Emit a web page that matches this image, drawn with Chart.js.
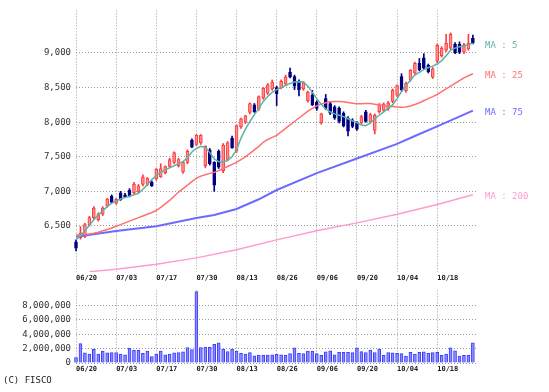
<!DOCTYPE html>
<html>
<head>
<meta charset="utf-8">
<script src="https://cdn.jsdelivr.net/npm/chart.js@4.4.1/dist/chart.umd.min.js"></script>
<style>
  body { margin: 0; background: #fff; width: 549px; height: 392px; position: relative; overflow: hidden; }
  #priceChart { position: absolute; left: 0; top: 0; }
  #volumeChart { position: absolute; left: 0; top: 280px; }
  #credit { position: absolute; left: 3px; top: 375px; font: 9px "DejaVu Sans Mono", monospace; color: #222; }
</style>
</head>
<body>
<canvas id="priceChart" width="549" height="283"></canvas>
<canvas id="volumeChart" width="549" height="112"></canvas>
<div id="credit">(C) FISCO</div>
<script>
// trading days shown on the chart
const dates = [
  "06/20","06/21","06/24","06/25","06/26","06/27","06/28",
  "07/01","07/02","07/03","07/04","07/05","07/08","07/09","07/10","07/11","07/12","07/16","07/17","07/18","07/19","07/22","07/23","07/24","07/25","07/26","07/29","07/30","07/31",
  "08/01","08/02","08/05","08/06","08/07","08/08","08/09","08/13","08/14","08/15","08/16","08/19","08/20","08/21","08/22","08/23","08/26","08/27","08/28","08/29","08/30",
  "09/02","09/03","09/04","09/05","09/06","09/09","09/10","09/11","09/12","09/13","09/17","09/18","09/19","09/20","09/24","09/25","09/26","09/27","09/30",
  "10/01","10/02","10/03","10/04","10/07","10/08","10/09","10/10","10/11","10/15","10/16","10/17","10/18","10/21","10/22","10/23","10/24","10/25","10/28","10/29","10/30"
];
const tickLabels = ["06/20","07/03","07/17","07/30","08/13","08/26","09/06","09/20","10/04","10/18"];
const priceTicks = [6500, 7000, 7500, 8000, 8500, 9000];
const volumeTicks = [0, 2000000, 4000000, 6000000, 8000000];

const opens = [
  6270,6330,6350,6520,6620,6590,6670,6790,6930,6830,
  6980,6950,7020,6980,7000,7100,7100,7130,7180,7210,
  7270,7360,7420,7370,7280,7420,7740,7680,7700,7370,
  7600,7420,7580,7300,7460,7770,7580,7930,8000,8140,
  8250,8190,8350,8420,8480,8500,8500,8550,8720,8660,
  8590,8480,8310,8390,8290,7990,8340,8270,8220,8200,
  8130,8060,8030,7990,7990,8150,8000,7880,8150,8170,
  8190,8300,8390,8660,8450,8610,8710,8850,8930,8820,
  8650,8880,8960,9040,9070,9130,9130,9010,9060,9210
];
const highs = [
  6300,6490,6540,6640,6780,6690,6780,6900,6950,6900,
  7000,6970,7040,7130,7100,7240,7200,7150,7330,7400,
  7370,7480,7570,7480,7430,7600,7760,7820,7820,7660,
  7620,7430,7600,7690,7720,7800,7960,8060,8100,8280,
  8270,8380,8500,8560,8610,8520,8610,8680,8780,8680,
  8610,8590,8450,8460,8310,8130,8400,8290,8240,8220,
  8150,8080,8050,8010,8100,8170,8130,8120,8270,8280,
  8300,8480,8540,8700,8580,8760,8870,8920,8990,8840,
  8790,9130,9090,9270,9290,9150,9160,9140,9270,9260
];
const lows = [
  6140,6310,6330,6500,6600,6570,6650,6770,6830,6810,
  6870,6910,6920,6960,6980,7080,7080,7070,7160,7200,
  7250,7340,7400,7350,7260,7400,7630,7660,7680,7340,
  7380,7000,7330,7270,7440,7620,7560,7910,7980,8120,
  8140,8170,8330,8400,8460,8240,8480,8530,8640,8470,
  8380,8460,8290,8240,8170,7970,8180,8110,8040,7990,
  7930,7800,7920,7880,7970,8000,7980,7830,8130,8150,
  8170,8280,8370,8450,8430,8590,8690,8740,8760,8710,
  8630,8860,8940,9020,9050,8990,8990,8990,9040,9130
];
const closes = [
  6180,6400,6520,6620,6760,6670,6760,6890,6840,6890,
  6880,6920,6930,7100,7080,7210,7190,7080,7320,7330,
  7360,7460,7560,7460,7420,7580,7640,7810,7810,7650,
  7400,7090,7350,7670,7700,7630,7950,8050,8090,8270,
  8150,8370,8490,8540,8580,8410,8590,8650,8650,8520,
  8470,8570,8430,8250,8200,8120,8200,8130,8060,8010,
  7950,7870,7940,7900,8080,8010,8110,8100,8250,8260,
  8280,8460,8530,8470,8560,8750,8850,8760,8780,8730,
  8770,9110,9070,9140,9270,9000,9010,9120,9140,9150
];
const volumes = [
  750000,2700000,1400000,1250000,1900000,1250000,1650000,1400000,1450000,1450000,
  1250000,1150000,2050000,1750000,1750000,1350000,1650000,900000,1250000,1650000,
  1150000,1250000,1400000,1450000,1550000,2150000,1850000,9950000,2150000,2200000,
  2200000,2600000,2800000,1950000,1600000,1950000,1650000,1350000,1250000,1450000,
  1000000,1100000,1100000,1100000,1150000,1200000,1150000,1050000,1300000,2100000,
  1350000,1300000,1650000,1650000,1300000,1050000,1550000,1700000,1150000,1500000,
  1500000,1500000,1450000,2100000,1600000,1450000,1800000,1450000,1950000,1050000,
  1450000,1400000,1350000,1300000,950000,1500000,1250000,1500000,1550000,1350000,
  1450000,1500000,1050000,1250000,2100000,1700000,950000,1050000,1050000,2800000
];

// moving averages
const ma5 = [
  6300,6360,6430,6510,6590,6660,6720,6780,6830,6860,
  6890,6910,6930,6950,6970,7030,7100,7170,7230,7280,
  7310,7340,7370,7400,7430,7490,7570,7620,7650,7640,
  7560,7470,7430,7420,7450,7500,7600,7770,7900,8010,
  8110,8200,8300,8370,8430,8470,8500,8530,8560,8580,
  8585,8580,8520,8430,8340,8260,8190,8150,8120,8100,
  8080,8050,8020,7990,7960,7950,7990,8050,8100,8150,
  8200,8250,8340,8440,8530,8610,8680,8720,8760,8790,
  8810,8840,8890,8960,9040,9070,9090,9100,9120,9140
];
const ma25 = [
  6370,6375,6380,6385,6395,6410,6430,6450,6470,6497,
  6520,6545,6570,6595,6620,6645,6670,6695,6723,6770,
  6820,6870,6930,6990,7040,7090,7140,7190,7220,7240,
  7260,7275,7300,7330,7360,7390,7420,7460,7500,7550,
  7600,7650,7710,7750,7780,7810,7860,7910,7960,8010,
  8060,8110,8160,8200,8235,8260,8280,8295,8300,8300,
  8295,8285,8275,8265,8265,8270,8270,8260,8250,8240,
  8230,8225,8220,8215,8220,8235,8255,8280,8310,8340,
  8370,8400,8440,8480,8520,8560,8600,8640,8670,8700
];
const ma75 = [[0,6345],[9,6426],[18,6497],[27,6614],[31,6660],[36,6745],[41,6886],[45,7020],[54,7263],[63,7475],[72,7687],[76,7800],[81,7940],[89,8167]];
const ma200 = [[3,5840],[9,5875],[18,5946],[27,6039],[36,6158],[45,6299],[54,6430],[63,6545],[72,6670],[81,6810],[89,6950]];

const tickIdx = tickLabels.map(t => dates.indexOf(t));
const monoFont = '"DejaVu Sans Mono", monospace';
const gridColor = "#9a9a9a";

const upFill = "#ff8c8c", upLine = "#ff3c3c", downFill = "#000080";
const candleFill = closes.map((c, i) => c >= opens[i] ? upFill : downFill);
const candleLine = closes.map((c, i) => c >= opens[i] ? upLine : downFill);

const maSeries = [
  { label: "MA : 5", color: "#5cb3a8", width: 1.5, data: ma5.map((v, i) => ({ x: i, y: v })) },
  { label: "MA : 25", color: "#ff7070", width: 1.5, data: ma25.map((v, i) => ({ x: i, y: v })) },
  { label: "MA : 75", color: "#6b6bff", width: 2, data: ma75.map(p => ({ x: p[0], y: p[1] })) },
  { label: "MA : 200", color: "#ff9ccf", width: 1.5, data: ma200.map(p => ({ x: p[0], y: p[1] })) }
];

// names of the MA lines at the right end of each line
const maLabels = {
  id: "maLabels",
  afterDatasetsDraw(chart) {
    const ctx = chart.ctx;
    const y = chart.scales.y;
    ctx.save();
    ctx.font = "9px " + monoFont;
    ctx.textBaseline = "middle";
    maSeries.forEach(m => {
      const last = m.data[m.data.length - 1].y;
      ctx.fillStyle = m.color;
      ctx.fillText(m.label, chart.chartArea.right + 9, y.getPixelForValue(last) + 2);
    });
    ctx.restore();
  }
};

function xScale(height) {
  return {
    type: "linear",
    min: 0,
    max: 89.7,
    offset: false,
    afterBuildTicks: s => { s.ticks = tickIdx.map(v => ({ value: v })); },
    afterFit: s => { s.height = height; },
    ticks: {
      autoSkip: false, maxRotation: 0, align: "start", padding: 2, color: "#222",
      font: { family: monoFont, size: 7, weight: "bold" },
      callback: v => dates[v]
    },
    grid: { color: gridColor, drawTicks: false, offset: false },
    border: { display: false, dash: [1, 2] }
  };
}

new Chart(document.getElementById("priceChart"), {
  type: "bar",
  data: {
    datasets: maSeries.map(m => ({
      type: "line", label: m.label, data: m.data, borderColor: m.color,
      borderWidth: m.width, pointRadius: 0, tension: 0, order: 0
    })).concat([
      {
        label: "body", data: closes.map((c, i) => ({ x: i, y: [opens[i], c] })),
        backgroundColor: candleFill, borderColor: candleLine, borderWidth: 1,
        borderSkipped: false, barThickness: 3, minBarLength: 1, grouped: false, clip: false, order: 1
      },
      {
        label: "wick", data: lows.map((l, i) => ({ x: i, y: [l, highs[i]] })),
        backgroundColor: candleLine, barThickness: 1, grouped: false, clip: false, order: 2
      }
    ])
  },
  options: {
    responsive: false,
    animation: false,
    layout: { padding: { top: 4, right: 73, left: 0, bottom: 0 } },
    plugins: { legend: { display: false }, tooltip: { enabled: false } },
    scales: {
      x: xScale(11),
      y: {
        min: 5835,
        max: 9615,
        afterBuildTicks: s => { s.ticks = priceTicks.map(v => ({ value: v })); },
        afterFit: s => { s.width = 76; },
        ticks: { padding: 5, color: "#333", font: { family: monoFont, size: 9 }, callback: v => v.toLocaleString("en-US") },
        grid: { color: gridColor, drawTicks: false },
        border: { display: false, dash: [1, 2] }
      }
    }
  },
  plugins: [maLabels]
});

new Chart(document.getElementById("volumeChart"), {
  type: "bar",
  data: {
    datasets: [{
      label: "volume", data: volumes.map((v, i) => ({ x: i, y: v })),
      backgroundColor: "#8a8aff", borderColor: "#3c3cff", borderWidth: 1,
      borderSkipped: "start", barThickness: 3, clip: false
    }]
  },
  options: {
    responsive: false,
    animation: false,
    layout: { padding: { top: 2, right: 73, left: 0, bottom: 0 } },
    plugins: { legend: { display: false }, tooltip: { enabled: false } },
    scales: {
      x: xScale(29),
      y: {
        min: 0,
        max: 10100000,
        afterBuildTicks: s => { s.ticks = volumeTicks.map(v => ({ value: v })); },
        afterFit: s => { s.width = 76; },
        ticks: { padding: 5, color: "#333", font: { family: monoFont, size: 9 }, callback: v => v.toLocaleString("en-US") },
        grid: { color: gridColor, drawTicks: false },
        border: { display: false, dash: [1, 2] }
      }
    }
  }
});
</script>
</body>
</html>
